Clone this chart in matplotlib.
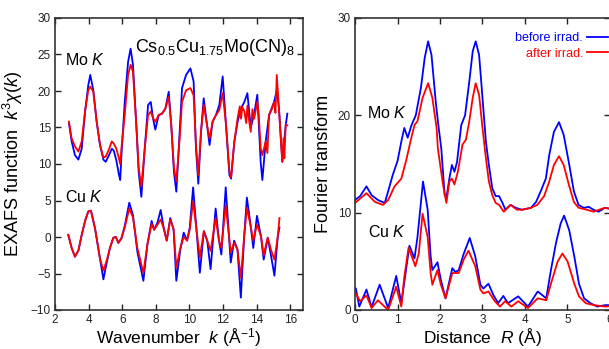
#!/usr/bin/env python3
"""
EXAFS spectra and their Fourier transforms for Cs0.5Cu1.75Mo(CN)8,
before and after irradiation (Mo K and Cu K edges).

Output: out.png
"""

from __future__ import annotations

import matplotlib

matplotlib.use("Agg")
import matplotlib.pyplot as plt

# --- EXAFS k^3 chi(k), Mo K edge (offset +15 in the original figure) ---
mo_k_before = [2.83, 2.99, 3.19, 3.39, 3.59, 3.79, 3.98, 4.10, 4.28, 4.48,
               4.68, 4.88, 5.02, 5.21, 5.38, 5.50, 5.65, 5.80, 5.88, 5.95,
               6.15, 6.35, 6.50, 6.64, 6.84, 6.98, 7.14, 7.34, 7.54, 7.70,
               7.83, 7.97, 8.17, 8.37, 8.57, 8.77, 8.92, 9.08, 9.22, 9.42,
               9.56, 9.80, 10.06, 10.25, 10.39, 10.53, 10.69, 10.85, 11.05,
               11.20, 11.38, 11.58, 11.78, 11.98, 12.18, 12.38, 12.48, 12.67,
               12.87, 13.07, 13.27, 13.45, 13.65, 13.85, 14.04, 14.24, 14.34,
               14.54, 14.74, 15.04, 15.20, 15.33, 15.53, 15.73, 15.83]
mo_chi_before = [15.6, 13.1, 11.2, 10.6, 12.1, 17.2, 20.8, 22.2, 20.1, 15.8,
                 12.6, 10.6, 10.3, 11.2, 12.1, 11.8, 10.5, 8.6, 7.8, 11.0,
                 18.5, 24.0, 25.8, 23.6, 15.3, 8.9, 5.5, 12.1, 18.1, 18.5,
                 16.3, 14.7, 16.7, 16.9, 17.6, 19.9, 15.3, 8.9, 6.2, 14.4,
                 20.4, 22.2, 23.1, 21.3, 12.1, 7.3, 14.4, 19.0, 15.3,
                 12.6, 15.8, 16.7, 18.1, 22.0, 15.3, 8.5, 8.0, 13.0,
                 15.8, 17.6, 18.5, 19.7, 15.0, 16.8, 19.5, 10.3, 7.8,
                 13.1, 16.7, 18.5, 20.1, 17.6, 10.3, 15.3, 16.9]

mo_k_after = [2.83, 2.99, 3.19, 3.39, 3.59, 3.79, 3.98, 4.10, 4.28, 4.48,
              4.68, 4.88, 5.02, 5.21, 5.38, 5.50, 5.65, 5.80, 5.88, 5.95,
              6.15, 6.35, 6.50, 6.64, 6.84, 6.98, 7.14, 7.34, 7.54, 7.70,
              7.83, 7.97, 8.17, 8.37, 8.57, 8.77, 8.92, 9.08, 9.22, 9.42,
              9.56, 9.80, 10.06, 10.25, 10.39, 10.53, 10.69, 10.85, 11.05,
              11.20, 11.38, 11.58, 11.78, 11.98, 12.18, 12.38, 12.48, 12.67,
              12.87, 13.00, 13.07, 13.15, 13.27, 13.38, 13.45, 13.55, 13.65,
              13.75, 13.85, 14.04, 14.12, 14.24, 14.34, 14.54, 14.64, 14.74,
              14.90, 15.04, 15.12, 15.20, 15.33, 15.45, 15.53, 15.60, 15.65,
              15.73, 15.83]
mo_chi_after = [15.8, 13.5, 12.4, 11.7, 13.1, 17.2, 20.1, 20.6, 19.9, 15.8,
                12.6, 10.9, 11.0, 12.0, 13.1, 12.8, 12.1, 10.8, 10.0, 12.1,
                16.7, 22.2, 23.6, 22.6, 15.3, 9.5, 6.9, 12.1, 16.7, 17.2,
                16.3, 15.8, 16.7, 16.9, 17.6, 19.2, 15.3, 9.5, 7.6, 13.5,
                18.5, 20.1, 20.4, 19.4, 12.6, 8.5, 14.4, 18.1, 15.3,
                13.5, 15.8, 16.7, 17.4, 19.7, 15.3, 9.0, 8.2, 13.0,
                16.3, 17.9, 16.2, 17.8, 17.2, 15.6, 18.0, 16.0, 14.4,
                17.5, 16.2, 18.5, 17.0, 12.2, 11.2, 13.1, 11.5, 16.7,
                17.5, 18.5, 17.0, 22.2, 17.6, 13.0, 10.3, 13.5, 10.8,
                15.3, 15.3]

# --- EXAFS k^3 chi(k), Cu K edge ---
cu_k = [2.79, 2.99, 3.19, 3.40, 3.59, 3.79, 3.98, 4.14, 4.38, 4.68, 4.88,
        5.08, 5.27, 5.47, 5.62, 5.77, 5.95, 6.15, 6.42, 6.64, 6.90, 7.26,
        7.50, 7.75, 7.90, 8.10, 8.29, 8.45, 8.65, 8.86, 9.06, 9.22, 9.46,
        9.66, 9.86, 10.02, 10.22, 10.42, 10.62, 10.86, 11.06, 11.26, 11.56,
        11.76, 11.90, 12.16, 12.46, 12.66, 12.86, 13.06, 13.26, 13.42, 13.66,
        13.80, 14.02, 14.26, 14.42, 14.66, 14.86, 15.06, 15.26, 15.36]
cu_chi_before = [0.3, -1.5, -2.7, -1.8, 0.3, 2.2, 3.5, 3.6, 1.2, -3.0, -5.8,
                 -3.5, -1.5, -0.1, 0.0, -0.8, -0.2, 1.5, 4.7, 3.0, -2.0, -6.0,
                 -1.0, 2.2, 1.0, 2.0, 3.7, 1.5, -0.5, 2.6, 1.0, -6.0, -1.7,
                 0.6, -0.5, 1.3, 6.8, 1.0, -4.9, 0.8, -0.5, -4.4, 3.9,
                 -0.5, -2.4, 6.8, -3.5, -0.5, -1.7, -8.3, 0.1, 5.4, 1.3,
                 -1.5, 2.9, 0.1, -3.1, -0.1, -2.6, -5.3, 0.1, 1.3]
cu_chi_after = [0.3, -1.5, -2.7, -1.8, 0.3, 2.2, 3.5, 3.6, 1.2, -3.0, -4.6,
                -3.2, -1.5, -0.1, 0.0, -0.8, -0.2, 1.3, 3.9, 2.7, -1.5, -4.9,
                -1.0, 1.8, 1.0, 1.7, 2.4, 1.3, -0.5, 2.4, 1.0, -4.2, -1.5,
                0.0, -0.5, 1.0, 4.9, 1.0, -2.8, 0.8, -0.5, -1.9, 2.6,
                -0.5, -1.5, 4.3, -2.1, -0.8, -1.7, -5.6, 0.1, 4.0, 1.3,
                -0.5, 1.7, 0.1, -2.5, -0.1, -1.8, -3.1, 0.1, 2.6]

# --- Fourier transform magnitude, Mo K edge (offset +10) ---
mo_r_before = [0.00, 0.12, 0.27, 0.39, 0.54, 0.70, 0.78, 0.89, 1.00, 1.09,
               1.16, 1.24, 1.33, 1.43, 1.55, 1.64, 1.72, 1.80, 1.90, 1.95,
               2.03, 2.11, 2.15, 2.22, 2.28, 2.34, 2.40, 2.50, 2.59, 2.69,
               2.77, 2.84, 2.92, 3.00, 3.08, 3.15, 3.23, 3.31, 3.39, 3.47,
               3.54, 3.66, 3.78, 3.93, 4.14, 4.26, 4.37, 4.49, 4.57, 4.68,
               4.80, 4.91, 5.03, 5.15, 5.26, 5.38, 5.50, 5.61, 5.73, 5.88,
               6.00]
mo_ft_before = [11.3, 11.7, 12.7, 11.8, 11.3, 11.0, 12.2, 13.9, 15.3, 17.3,
                18.7, 17.7, 19.0, 20.0, 22.8, 25.9, 27.6, 26.2, 21.4, 19.4,
                16.6, 11.8, 11.5, 13.5, 14.9, 14.2, 15.2, 19.0, 20.0, 23.5,
                26.6, 27.6, 26.2, 21.8, 17.3, 14.9, 12.5, 11.7, 11.7, 11.0,
                10.3, 10.8, 10.5, 10.3, 10.5, 11.1, 12.2, 13.5, 15.9, 18.3,
                19.3, 18.0, 15.2, 12.2, 10.8, 10.5, 10.6, 10.3, 10.1, 10.5,
                10.4]

mo_r_after = [0.00, 0.27, 0.47, 0.66, 0.78, 0.93, 1.09, 1.20, 1.32, 1.40,
              1.47, 1.59, 1.72, 1.82, 1.92, 1.95, 2.07, 2.15, 2.22, 2.28,
              2.34, 2.42, 2.53, 2.61, 2.69, 2.77, 2.84, 2.92, 3.00, 3.08,
              3.15, 3.23, 3.31, 3.39, 3.50, 3.66, 3.81, 3.93, 4.14, 4.29,
              4.45, 4.57, 4.68, 4.80, 4.91, 5.03, 5.15, 5.26, 5.46, 5.61,
              5.88, 6.00]
mo_ft_after = [11.0, 12.0, 11.1, 10.8, 11.3, 12.7, 13.5, 15.3, 17.6, 19.0,
               19.4, 21.8, 23.3, 21.8, 18.7, 16.6, 12.9, 11.0, 13.2, 13.5,
               12.9, 14.2, 17.0, 17.5, 19.4, 21.8, 23.3, 22.1, 18.7, 15.6,
               13.2, 11.8, 11.0, 10.8, 10.1, 10.8, 10.3, 10.3, 10.5, 10.8,
               11.7, 13.2, 14.9, 15.8, 14.9, 12.9, 11.1, 10.5, 10.3, 10.1,
               10.5, 10.4]

# --- Fourier transform magnitude, Cu K edge ---
cu_r_before = [0.02, 0.10, 0.27, 0.39, 0.58, 0.78, 0.97, 1.09, 1.20, 1.28,
               1.40, 1.47, 1.60, 1.71, 1.78, 1.82, 1.94, 2.02, 2.13, 2.29,
               2.36, 2.44, 2.56, 2.70, 2.83, 2.95, 3.02, 3.14, 3.26, 3.37,
               3.49, 3.60, 3.84, 4.07, 4.30, 4.50, 4.61, 4.73, 4.84, 4.92,
               5.04, 5.16, 5.27, 5.39, 5.54, 5.70, 5.89, 6.00]
cu_ft_before = [2.2, 0.35, 2.1, 0.3, 2.6, 0.2, 3.5, 0.7, 4.1, 6.6,
                5.3, 7.5, 13.2, 10.3, 5.5, 4.1, 4.9, 3.1, 1.2, 4.3,
                3.9, 4.1, 5.8, 7.4, 5.5, 2.6, 2.2, 2.7, 1.5, 0.7,
                1.45, 0.7, 1.4, 0.35, 1.9, 1.2, 4.1, 6.9, 8.9, 9.7,
                8.2, 5.5, 2.7, 1.2, 0.7, 0.35, 0.5, 0.5]

cu_r_after = [0.02, 0.12, 0.27, 0.39, 0.54, 0.78, 0.97, 1.09, 1.16, 1.26,
              1.42, 1.50, 1.59, 1.71, 1.78, 1.82, 1.94, 2.02, 2.13, 2.29,
              2.44, 2.56, 2.67, 2.83, 2.95, 3.02, 3.14, 3.29, 3.41, 3.53,
              3.68, 3.84, 4.07, 4.30, 4.50, 4.61, 4.77, 4.88, 5.00, 5.16,
              5.27, 5.43, 5.62, 5.89, 6.00]
cu_ft_after = [1.7, 0.9, 1.5, 0.2, 1.0, 0.0, 2.4, 0.35, 3.4, 6.4,
               4.5, 5.8, 9.9, 7.5, 3.8, 2.6, 4.1, 2.6, 1.2, 3.8,
               3.8, 5.2, 6.1, 4.5, 2.1, 1.7, 1.9, 0.9, 0.35, 0.9,
               0.35, 0.9, 0.2, 1.2, 1.0, 2.7, 5.0, 5.8, 5.0, 2.7,
               1.4, 0.7, 0.5, 0.35, 0.4]

BLUE = "#0000ff"
RED = "#ff0000"
SPINE = "#333333"

plt.rcParams["font.family"] = ["Liberation Sans", "DejaVu Sans"]
plt.rcParams["mathtext.fontset"] = "custom"
plt.rcParams["mathtext.rm"] = "Liberation Sans"
plt.rcParams["mathtext.it"] = "Liberation Sans:italic"
plt.rcParams["mathtext.bf"] = "Liberation Sans:bold"


def _style_axes(ax: plt.Axes) -> None:
    """Inward ticks on all four sides, gnuplot-like frame."""
    ax.tick_params(direction="in", top=True, right=True, length=4,
                   width=1.0, labelsize=8.5, colors="#222222", pad=3)
    for spine in ax.spines.values():
        spine.set_color(SPINE)
        spine.set_linewidth(1.2)


def main() -> None:
    fig = plt.figure(figsize=(6.09, 3.49), dpi=100)

    # left panel: EXAFS oscillations
    ax1 = fig.add_axes([55 / 609, 1 - 310 / 349, 248 / 609, 292 / 349])
    ax1.plot(mo_k_before, mo_chi_before, color=BLUE, lw=1.3)
    ax1.plot(cu_k, cu_chi_before, color=BLUE, lw=1.3)
    ax1.plot(mo_k_after, mo_chi_after, color=RED, lw=1.3)
    ax1.plot(cu_k, cu_chi_after, color=RED, lw=1.3)
    ax1.set_xlim(2, 16.76)
    ax1.set_ylim(-10, 30)
    ax1.set_xticks(range(2, 17, 2))
    ax1.set_yticks(range(-10, 31, 5))
    _style_axes(ax1)
    ax1.set_xlabel(r"Wavenumber  $k$ (Å$^{-1}$)", fontsize=12.5, labelpad=0)
    ax1.set_ylabel(r"EXAFS function  $k^3\chi(k)$", fontsize=13, labelpad=4)
    ax1.text(2.6, 24.2, r"Mo $K$", fontsize=11.5, va="center")
    ax1.text(2.6, 5.5, r"Cu $K$", fontsize=11.5, va="center")
    ax1.text(6.75, 26.0, r"Cs$_{0.5}$Cu$_{1.75}$Mo(CN)$_8$", fontsize=13,
             va="center")

    # right panel: Fourier transforms (axis runs past the image edge)
    ax2 = fig.add_axes([355 / 609, 1 - 310 / 349, 255 / 609, 292 / 349])
    ax2.plot(mo_r_before, mo_ft_before, color=BLUE, lw=1.3,
             label="before irrad.")
    ax2.plot(cu_r_before, cu_ft_before, color=BLUE, lw=1.3)
    ax2.plot(mo_r_after, mo_ft_after, color=RED, lw=1.3,
             label="after irrad.")
    ax2.plot(cu_r_after, cu_ft_after, color=RED, lw=1.3)
    ax2.set_xlim(0, 6)
    ax2.set_ylim(0, 30)
    ax2.set_xticks(range(0, 7))
    ax2.set_yticks(range(0, 31, 10))
    _style_axes(ax2)
    ax2.set_xlabel(r"Distance  $R$ (Å)", fontsize=12.5, labelpad=0)
    ax2.set_ylabel("Fourier transform", fontsize=13, labelpad=4)
    ax2.text(0.28, 20.2, r"Mo $K$", fontsize=11.5, va="center")
    ax2.text(0.30, 8.0, r"Cu $K$", fontsize=11.5, va="center")

    ax2.legend(loc="upper right", bbox_to_anchor=(608 / 609, 1 - 32 / 349),
               bbox_transform=fig.transFigure, frameon=False,
               markerfirst=False, labelcolor="linecolor", fontsize=9,
               handlelength=1.7, handletextpad=0.3, borderaxespad=0,
               borderpad=0, labelspacing=0.3)

    fig.savefig("out.png", dpi=100)
    plt.close(fig)


if __name__ == "__main__":
    main()
